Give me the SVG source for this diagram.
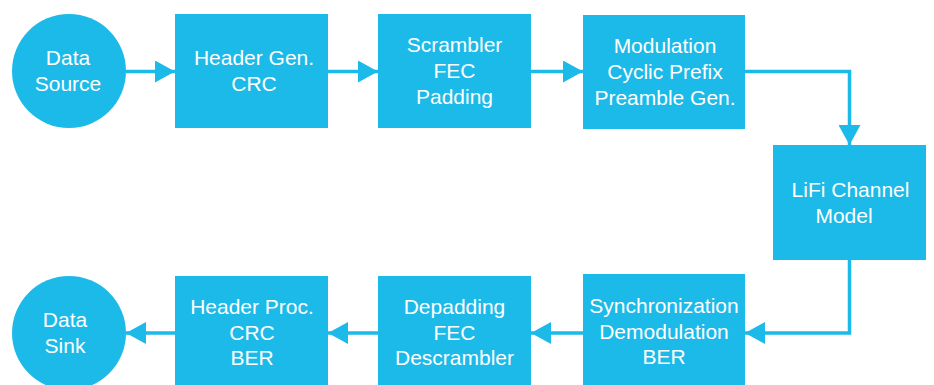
<svg xmlns="http://www.w3.org/2000/svg" width="934" height="385" viewBox="0 0 934 385">
<defs>
<style>
.n{fill:#1BBAE8}
.t{font-family:"Liberation Sans",Arial,sans-serif;font-size:21px;fill:#ffffff;text-anchor:middle}
.c{fill:none;stroke:#1BBAE8;stroke-width:3.5}
</style>
<marker id="ah" markerUnits="userSpaceOnUse" markerWidth="20" markerHeight="22" refX="20" refY="11" orient="auto" viewBox="0 0 20 22">
<path d="M0,0 L20,11 L0,22 Z" fill="#1BBAE8"/>
</marker>
</defs>
<rect width="934" height="385" fill="#ffffff"/>
<g id="connectors">
<line class="c" x1="126" y1="71.5" x2="175" y2="71.5" marker-end="url(#ah)"/>
<line class="c" x1="328" y1="71.5" x2="378" y2="71.5" marker-end="url(#ah)"/>
<line class="c" x1="531" y1="71.5" x2="583" y2="71.5" marker-end="url(#ah)"/>
<polyline class="c" points="745,71.5 849.5,71.5 849.5,145" marker-end="url(#ah)"/>
<polyline class="c" points="849.5,260 849.5,333 745,333" marker-end="url(#ah)"/>
<line class="c" x1="583" y1="333" x2="531" y2="333" marker-end="url(#ah)"/>
<line class="c" x1="378" y1="333" x2="328" y2="333" marker-end="url(#ah)"/>
<line class="c" x1="175" y1="333" x2="126" y2="333" marker-end="url(#ah)"/>
</g>
<g id="data-source">
<circle class="n" cx="69" cy="71" r="57"/>
<text class="t" x="68" y="65">Data</text>
<text class="t" x="68" y="91">Source</text>
</g>
<g id="header-gen">
<rect class="n" x="175" y="14" width="153" height="114"/>
<text class="t" x="254" y="65">Header Gen.</text>
<text class="t" x="254" y="91">CRC</text>
</g>
<g id="scrambler">
<rect class="n" x="378" y="14" width="153" height="114"/>
<text class="t" x="454.5" y="52">Scrambler</text>
<text class="t" x="454.5" y="78">FEC</text>
<text class="t" x="454.5" y="104">Padding</text>
</g>
<g id="modulation">
<rect class="n" x="583" y="15" width="162" height="114"/>
<text class="t" x="665" y="53">Modulation</text>
<text class="t" x="665" y="79">Cyclic Prefix</text>
<text class="t" x="665" y="105">Preamble Gen.</text>
</g>
<g id="lifi-channel">
<rect class="n" x="773" y="145" width="153" height="115"/>
<text class="t" x="850.5" y="197">LiFi Channel</text>
<text class="t" x="844" y="223">Model</text>
</g>
<g id="sync">
<rect class="n" x="583" y="274" width="162" height="116"/>
<text class="t" x="664" y="313">Synchronization</text>
<text class="t" x="664" y="338.5">Demodulation</text>
<text class="t" x="664" y="363.5">BER</text>
</g>
<g id="depadding">
<rect class="n" x="378" y="276" width="153" height="114"/>
<text class="t" x="454.5" y="314">Depadding</text>
<text class="t" x="454.5" y="339.5">FEC</text>
<text class="t" x="454.5" y="364.5">Descrambler</text>
</g>
<g id="header-proc">
<rect class="n" x="175" y="276" width="153" height="114"/>
<text class="t" x="252" y="313.5">Header Proc.</text>
<text class="t" x="252" y="339.5">CRC</text>
<text class="t" x="252" y="364.5">BER</text>
</g>
<g id="data-sink">
<circle class="n" cx="69" cy="333" r="57"/>
<text class="t" x="65" y="327">Data</text>
<text class="t" x="65" y="352.5">Sink</text>
</g>
</svg>
